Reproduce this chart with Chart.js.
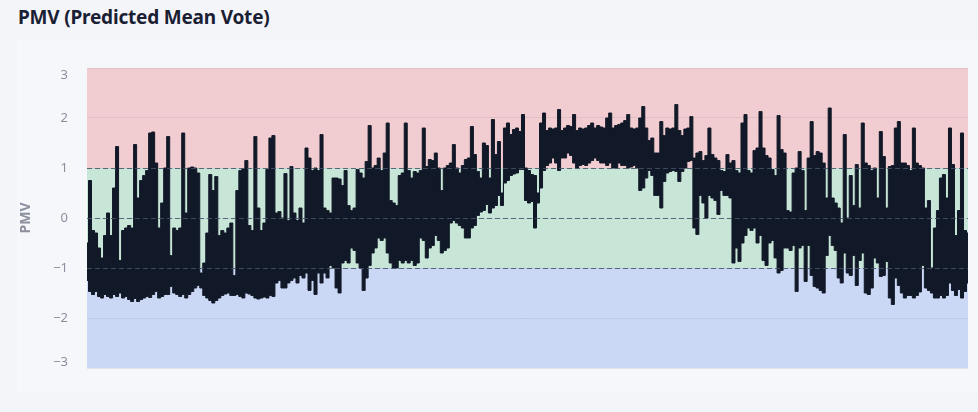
<!DOCTYPE html>
<html>
<head>
<meta charset="utf-8">
<script src="https://cdn.jsdelivr.net/npm/chart.js@4.4.1/dist/chart.umd.min.js"></script>
<style>
  html, body { margin: 0; padding: 0; background: #f4f5f9; }
  body { width: 978px; height: 412px; position: relative; overflow: hidden; font-family: "Noto Sans", sans-serif; }
  h1 { position: absolute; left: 18px; top: 4px; margin: 0; font-size: 19px; font-weight: 700; color: #1a2033; letter-spacing: -0.2px; }
  .card { position: absolute; left: 17px; top: 40px; width: 961px; height: 352px; background: #f6f7fb; }
  .chart-wrap { position: absolute; left: 0; top: 0; width: 978px; height: 412px; }
</style>
</head>
<body>
<h1>PMV (Predicted Mean Vote)</h1>
<div class="card"></div>
<div class="chart-wrap"><canvas id="pmv-chart"></canvas></div>
<script>
// Upper and lower envelope of the dense PMV trace, read left to right
const pmvHigh = [
  -0.5, 0.75, -0.25, -0.3, -0.6, -0.8, -0.35, 0.1, -0.35, 0.6, 1.43, -0.85, -0.25, -0.2, -0.15, -0.2, 1.47, 0.4, 0.75, 0.85, 0.95, 1.7, 1.72, 1.1, -0.2, 0.3, 1.0, 1.63, -0.75, -0.2, -0.25, -0.2, 1.7, 0.1, 1.0, 1.02, 1.0,
  0.9, -1.1, -0.9, -0.3, 0.87, 0.55, 0.83, -0.35, -0.25, -0.3, -0.2, -0.1, -1.15, 0.55, 0.95, 0.98, 1.15, -0.15, -0.25, 1.63, 0.2, -0.25, -0.1, 0.97, 1.6, 1.65, 0.1, 0.13, 0.0, 0.89, -0.05, 1.03, 0.1, -0.05, 0.2, -0.1, 1.4,
  1.2, 0.95, 1.0, 0.95, 1.67, 0.2, 0.15, 0.1, 0.8, 0.8, 0.78, 0.65, 0.95, 0.25, 0.15, 0.2, 0.97, 0.9, 0.8, 1.13, 1.85, 1.0, 1.05, 1.2, 0.95, 1.3, 1.9, 0.35, 0.3, 0.25, 0.85, 0.9, 1.9, 0.95, 0.8, 0.93, 0.9,
  0.95, 1.8, 1.03, 1.17, 1.15, 1.3, 1.0, 0.55, 1.0, 1.05, 1.1, 1.47, 1.0, 0.9, 1.05, 1.17, 1.2, 1.83, 1.27, 0.93, 0.8, 1.5, 1.45, 0.8, 1.97, 1.27, 1.53, 0.5, 1.8, 1.9, 1.67, 1.77, 1.8, 1.73, 2.07, 1.0, 0.95,
  0.87, 0.85, 0.5, 1.9, 2.1, 1.75, 1.8, 1.78, 1.8, 2.17, 1.75, 1.8, 1.85, 1.83, 2.07, 1.75, 1.8, 1.78, 1.8, 1.85, 1.9, 1.8, 1.85, 1.82, 1.8, 2.0, 2.1, 1.8, 1.85, 1.87, 1.9, 1.95, 2.07, 1.8, 1.78, 1.8, 2.0,
  2.23, 1.8, 1.55, 1.6, 1.3, 1.3, 1.93, 1.65, 1.8, 1.78, 1.8, 2.27, 1.75, 1.65, 1.78, 1.8, 2.03, 1.2, 1.3, 1.33, 1.15, 1.25, 1.8, 1.27, 1.2, 1.15, 0.95, 0.93, 1.27, 1.1, 1.15, 0.95, 0.9, 1.9, 2.07, 0.95, 0.9,
  1.35, 1.4, 2.13, 1.4, 1.25, 1.2, 0.97, 0.85, 2.05, 1.37, 1.3, 0.15, 0.12, 0.9, 1.0, 1.33, 0.95, 0.15, 1.2, 1.93, 1.25, 1.33, 1.3, 1.1, 0.4, 2.2, 0.4, 0.3, 0.2, -0.1, 1.67, 0.0, 0.85, 0.25, 1.07, 0.2, 1.9,
  1.1, 1.05, 0.95, 1.0, 0.4, 1.73, 1.23, 0.2, 1.03, 1.05, 1.8, 1.93, 1.1, 1.1, 1.05, 0.95, 1.8, 1.1, 1.05, 1.0, 0.2, 0.35, -1.0, -0.2, 0.15, 0.8, 0.87, 0.4, 1.8, 1.07, -0.35, 0.15, 1.7, -0.25, -0.3
];
const pmvLow = [
  -1.25, -1.47, -1.53, -1.47, -1.57, -1.6, -1.53, -1.57, -1.6, -1.53, -1.57, -1.5, -1.6, -1.57, -1.63, -1.67, -1.61, -1.67, -1.63, -1.6, -1.57, -1.59, -1.53, -1.47, -1.6, -1.57, -1.53, -1.53, -1.37, -1.5, -1.53, -1.57, -1.53, -1.6, -1.53, -1.47, -1.4,
  -1.35, -1.4, -1.55, -1.6, -1.65, -1.7, -1.65, -1.6, -1.55, -1.52, -1.5, -1.55, -1.55, -1.53, -1.57, -1.6, -1.5, -1.52, -1.55, -1.6, -1.62, -1.6, -1.58, -1.6, -1.55, -1.57, -1.3, -1.25, -1.4, -1.4, -1.3, -1.25, -1.2, -1.3, -1.15, -1.2, -1.1,
  -1.45, -1.25, -1.53, -1.1, -1.3, -1.1, -1.2, -0.95, -1.0, -1.4, -1.5, -0.9, -0.85, -0.9, -0.6, -0.65, -0.9, -1.0, -1.45, -1.2, -0.95, -0.7, -0.6, -0.4, -0.45, -0.4, -0.7, -0.9, -1.0, -1.0, -0.85, -0.9, -0.85, -0.9, -0.85, -0.95, -0.9,
  -0.4, -0.45, -0.8, -0.6, -0.55, -0.35, -0.45, -0.7, -0.65, -0.6, -0.1, -0.05, -0.1, -0.15, -0.2, -0.4, -0.4, -0.2, -0.15, 0.05, 0.12, 0.15, 0.27, 0.1, 0.2, 0.25, 0.45, 0.25, 0.7, 0.75, 0.85, 0.88, 0.9, 0.97, 0.97, 0.35, 0.3,
  0.33, -0.2, 0.3, 0.6, 0.95, 1.05, 1.1, 1.2, 1.1, 0.95, 1.2, 1.2, 1.3, 1.25, 1.1, 1.0, 1.05, 1.07, 1.05, 1.1, 1.15, 1.2, 1.15, 1.1, 1.1, 1.05, 1.1, 1.0, 1.0, 1.1, 1.05, 1.05, 1.0, 1.02, 1.05, 1.0, 0.55,
  0.6, 0.8, 0.95, 0.85, 0.45, 0.45, 0.2, 0.73, 0.9, 0.93, 0.95, 0.93, 0.73, 0.93, 1.0, 1.13, 1.15, -0.2, -0.33, 0.45, 0.3, 0.0, 0.45, 0.4, 0.35, 0.07, 0.55, 0.45, 0.45, 0.4, -0.9, -0.6, -0.87, -0.5, -0.35, -0.2, -0.25,
  -0.2, -0.5, -0.35, -0.85, -0.95, -0.5, -0.45, -0.8, -1.1, -1.05, -0.6, -0.6, -0.65, -0.55, -1.47, -0.6, -0.55, -1.27, -0.55, -1.15, -1.37, -1.4, -1.45, -1.5, -0.75, -0.35, -0.55, -0.65, -1.2, -1.3, -0.7, -1.1, -1.15, -0.75, -1.35, -0.85, -0.7,
  -1.5, -1.53, -1.4, -0.8, -0.9, -1.17, -1.15, -0.87, -1.6, -1.73, -1.2, -1.35, -1.5, -1.6, -1.55, -1.55, -1.6, -1.55, -1.48, -0.95, -1.4, -1.45, -1.5, -1.6, -1.6, -1.55, -1.6, -1.55, -1.3, -1.45, -1.55, -1.43, -1.6, -1.47, -1.3
];
const samples = pmvHigh.map((_, i) => i);

// Comfort zones and reference lines
const zoneEdges = [-3, -1, 1, 3];
const zoneColors = ["#cbd8f5", "#c8e6d8", "#f1cdd2"];
const refLines = [-1, 0, 1];
const yTicks = [-3, -2, -1, 0, 1, 2, 3];

const zonesPlugin = {
  id: "zones",
  beforeDraw(chart) {
    const { ctx, chartArea } = chart;
    const y = chart.scales.y;
    ctx.save();
    for (let i = 0; i < zoneColors.length; i++) {
      const top = y.getPixelForValue(zoneEdges[i + 1]);
      const bottom = y.getPixelForValue(zoneEdges[i]);
      ctx.fillStyle = zoneColors[i];
      ctx.fillRect(chartArea.left, top, chartArea.right - chartArea.left, bottom - top);
    }
    ctx.restore();
  },
  afterDatasetsDraw(chart) {
    const { ctx, chartArea } = chart;
    const y = chart.scales.y;
    ctx.save();
    ctx.strokeStyle = "rgba(70, 82, 104, 0.85)";
    ctx.lineWidth = 1;
    ctx.setLineDash([5, 3]);
    refLines.forEach((v) => {
      const py = Math.round(y.getPixelForValue(v)) + 0.5;
      ctx.beginPath();
      ctx.moveTo(chartArea.left, py);
      ctx.lineTo(chartArea.right, py);
      ctx.stroke();
    });
    ctx.restore();

    // tick labels, the end ones nudged inside the plot like the original
    ctx.save();
    ctx.fillStyle = "#8b8f9e";
    ctx.font = "13px 'Noto Sans'";
    ctx.textAlign = "right";
    ctx.textBaseline = "middle";
    yTicks.forEach((v) => {
      let py = y.getPixelForValue(v);
      if (v === yTicks[yTicks.length - 1]) py += 7;
      if (v === yTicks[0]) py -= 6;
      ctx.fillText(String(v).replace("-", "\u2212"), chartArea.left - 19, py);
    });
    ctx.restore();
  },
};

new Chart(document.getElementById("pmv-chart"), {
  type: "line",
  data: {
    labels: samples,
    datasets: [
      {
        label: "PMV",
        data: pmvHigh,
        borderColor: "#111827",
        backgroundColor: "#111827",
        borderWidth: 1,
        pointRadius: 0,
        stepped: "middle",
        fill: "+1",
      },
      {
        label: "PMV low",
        data: pmvLow,
        borderColor: "#111827",
        backgroundColor: "#111827",
        borderWidth: 1,
        pointRadius: 0,
        stepped: "middle",
        fill: false,
      },
    ],
  },
  options: {
    responsive: true,
    maintainAspectRatio: false,
    animation: false,
    layout: { padding: { top: 68, bottom: 44, right: 10, left: 0 } },
    plugins: {
      legend: { display: false },
      tooltip: { enabled: false },
    },
    scales: {
      x: { display: false },
      y: {
        min: -3,
        max: 3,
        afterFit(scale) {
          scale.width = 87;
        },
        afterBuildTicks(scale) {
          scale.ticks = yTicks.map((v) => ({ value: v }));
        },
        border: { display: false },
        grid: {
          color: "rgba(150, 130, 160, 0.18)",
          drawTicks: false,
        },
        ticks: { display: false },
        title: {
          display: true,
          text: "PMV",
          color: "#8b8f9e",
          font: { family: "Noto Sans", size: 14, weight: "bold" },
          padding: { top: 18, bottom: 0 },
        },
      },
    },
  },
  plugins: [zonesPlugin],
});
</script>
</body>
</html>
